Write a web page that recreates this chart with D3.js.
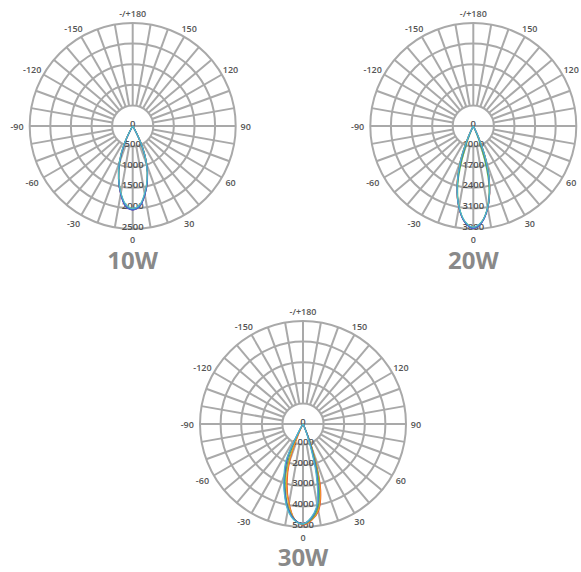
<!DOCTYPE html>
<html>
<head>
<meta charset="utf-8">
<script src="https://cdn.jsdelivr.net/npm/d3@7"></script>
<style>
  body { margin: 0; background: #fff; }
  text { font-family: "Open Sans", "DejaVu Sans", sans-serif; }
</style>
</head>
<body>
<svg id="chart" width="581" height="572"></svg>
<script>
// ---------- DATA ----------
const angles = [-45,-40,-35,-30,-25,-20,-15,-10,-5,0,5,10,15,20,25,30,35,40,45];
const seriesNames = ["C0","C30","C60","C90","C120","C150"];
const seriesColors = ["#e8452c","#f39a2b","#5cb84a","#6a3fb0","#3f6fd6","#4fbfc8"];

const angleTicks = [0,30,60,90,120,150,180,-150,-120,-90,-60,-30];
const angleTickLabels = ["0","30","60","90","120","150","-/+180","-150","-120","-90","-60","-30"];

const titles = ["10W","20W","30W"];
const radialTicks10 = ["0","500","1000","1500","2000","2500"];
const radialTicks20 = ["0","1000","1700","2400","3100","3800"];
const radialTicks30 = ["0","1000","2000","3000","4000","5000"];
const radialMax = [2500, 3800, 5000];

// 10W intensities (cd) per angle
const w10Red    = [0,0,0,70,510,950,1330,1670,1940,2020,1950,1690,1370,1010,580,110,5,0,0];
const w10Orange = [0,0,0,60,500,940,1320,1660,1930,2010,1940,1680,1360,1000,560,100,5,0,0];
const w10Green  = [0,0,0,30,430,900,1310,1660,1940,2030,1950,1690,1370,980,470,60,0,0,0];
const w10Purple = [0,0,0,40,460,930,1330,1680,1960,2040,1960,1700,1380,1000,520,80,0,0,0];
const w10Blue   = [0,0,0,50,480,940,1320,1670,1950,2030,1950,1690,1370,1000,540,90,0,0,0];
const w10Cyan   = [0,0,5,90,540,960,1320,1650,1910,2000,1920,1660,1350,990,560,110,5,0,0];

// 20W
const w20Red    = [0,0,0,10,420,1400,2320,3060,3560,3760,3560,3070,2340,1420,440,20,0,0,0];
const w20Orange = [0,0,0,10,400,1390,2310,3050,3550,3750,3550,3060,2330,1410,420,20,0,0,0];
const w20Green  = [0,0,0,0,90,920,2200,3020,3550,3760,3560,3040,2220,940,100,0,0,0,0];
const w20Purple = [0,0,0,0,300,1300,2280,3050,3570,3780,3580,3070,2310,1350,320,0,0,0,0];
const w20Blue   = [0,0,0,0,340,1340,2290,3050,3560,3770,3570,3060,2320,1380,360,10,0,0,0];
const w20Cyan   = [0,0,0,20,420,1420,2300,3030,3530,3730,3540,3050,2330,1440,450,30,0,0,0];

// 30W
const w30Red    = [0,0,0,0,400,1900,3000,3900,4650,4900,4700,4300,3300,1400,150,0,0,0,0];
const w30Orange = [0,0,0,0,500,2000,3100,3950,4650,4880,4680,4250,3200,1300,120,0,0,0,0];
const w30Green  = [0,0,0,100,1200,2400,3300,4100,4650,4860,4650,4150,3000,1300,200,0,0,0,0];
const w30Purple = [0,0,0,200,1700,2600,3400,4180,4660,4840,4580,4020,2650,950,150,0,0,0,0];
const w30Blue   = [0,0,0,250,1800,2650,3450,4200,4680,4850,4600,4000,2600,900,150,0,0,0,0];
const w30Cyan   = [0,0,0,300,1950,2700,3500,4250,4700,4850,4550,3950,2400,700,100,0,0,0,0];

// ---------- LAYOUT ----------
const R = 103;
const charts = [
  { title: titles[0], cx: 132.7, cy: 126, ty: 269, max: radialMax[0], ticks: radialTicks10,
    series: [w10Red, w10Orange, w10Green, w10Purple, w10Blue, w10Cyan] },
  { title: titles[1], cx: 473.3, cy: 126, ty: 269, max: radialMax[1], ticks: radialTicks20,
    series: [w20Red, w20Orange, w20Green, w20Purple, w20Blue, w20Cyan] },
  { title: titles[2], cx: 303, cy: 424, ty: 566, max: radialMax[2], ticks: radialTicks30,
    series: [w30Red, w30Orange, w30Green, w30Purple, w30Blue, w30Cyan] }
];

const svg = d3.select("#chart");
const gridColor = "#a9a9a9";
const toRad = d => d * Math.PI / 180;

charts.forEach(ch => {
  const g = svg.append("g").attr("transform", `translate(${ch.cx},${ch.cy})`);
  const ringScale = d3.scaleLinear().domain([0, ch.ticks.length - 1]).range([0, R]);
  const rScale = d3.scaleLinear().domain([0, ch.max]).range([0, R]);
  const r1 = ringScale(1);

  // rings
  g.selectAll("circle.ring").data(d3.range(1, ch.ticks.length)).join("circle")
    .attr("class", "ring").attr("r", i => ringScale(i))
    .attr("fill", "none").attr("stroke", gridColor).attr("stroke-width", 2);

  // spokes every 10 degrees
  g.selectAll("line.spoke").data(d3.range(0, 360, 10)).join("line")
    .attr("class", "spoke")
    .attr("x1", a => r1 * Math.sin(toRad(a))).attr("y1", a => r1 * Math.cos(toRad(a)))
    .attr("x2", a => R * Math.sin(toRad(a))).attr("y2", a => R * Math.cos(toRad(a)))
    .attr("stroke", gridColor).attr("stroke-width", 2);
  // horizontal diameter through the hole
  g.append("line").attr("x1", -r1).attr("x2", r1).attr("y1", 0).attr("y2", 0)
    .attr("stroke", gridColor).attr("stroke-width", 2);

  // angle labels
  const LR = 113;
  g.selectAll("text.ang").data(angleTicks).join("text")
    .attr("class", "ang")
    .attr("x", (a, i) => LR * Math.sin(toRad(a)) + (a < 0 ? -2.7 : 0))
    .attr("y", a => LR * Math.cos(toRad(a)))
    .attr("text-anchor", "middle").attr("dominant-baseline", "central")
    .attr("font-size", 9).attr("font-weight", 600).attr("fill", "#555")
    .text((a, i) => angleTickLabels[i]);

  // radial labels
  g.selectAll("text.rad").data(ch.ticks).join("text")
    .attr("class", "rad")
    .attr("x", 0).attr("y", (t, i) => ringScale(i) + 0.5)
    .attr("text-anchor", "middle")
    .attr("font-size", 9.5).attr("font-weight", 600).attr("fill", "#505050")
    .text(t => t);

  // curves
  const line = d3.lineRadial()
    .angle(d => Math.PI - toRad(d.a))
    .radius(d => rScale(d.v))
    .curve(d3.curveCatmullRom.alpha(0.5));
  ch.series.forEach((vals, si) => {
    const pts = angles.map((a, k) => ({ a: a, v: vals[k] }));
    g.append("path").datum(pts)
      .attr("d", line)
      .attr("fill", "none")
      .attr("stroke", seriesColors[si])
      .attr("stroke-width", 1.2)
      .attr("data-name", seriesNames[si]);
  });

  // title
  svg.append("text")
    .attr("x", ch.cx).attr("y", ch.ty)
    .attr("text-anchor", "middle")
    .attr("font-size", 24).attr("font-weight", 700).attr("fill", "#898989")
    .text(ch.title);
});
</script>
</body>
</html>
